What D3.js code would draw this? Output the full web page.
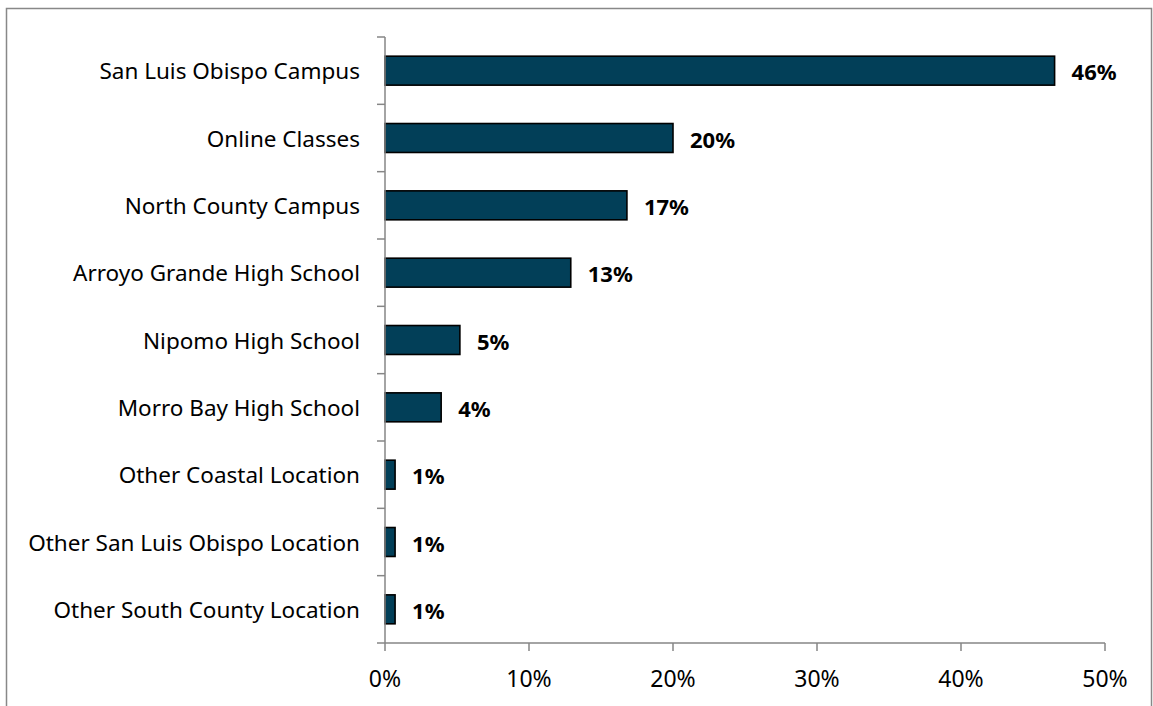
<!DOCTYPE html>
<html><head><meta charset="utf-8">
<script src="https://cdn.jsdelivr.net/npm/d3@7"></script>
<style>body{margin:0;background:#fff}svg{display:block}</style>
</head><body>
<svg id="c" width="1153" height="706"></svg>
<script>
const categories = ["San Luis Obispo Campus","Online Classes","North County Campus","Arroyo Grande High School","Nipomo High School","Morro Bay High School","Other Coastal Location","Other San Luis Obispo Location","Other South County Location"];
const values = [46.5, 20.0, 16.8, 12.9, 5.2, 3.9, 0.7, 0.7, 0.7];
const valueLabels = ["46%","20%","17%","13%","5%","4%","1%","1%","1%"];
const xTicks = [0,10,20,30,40,50];

(function(){
const svg = d3.select("#c");
const font = "'Noto Sans', sans-serif";
const pL = 385, pR = 1105, pT = 37, pB = 643;
const axisColor = "#868686";

svg.append("rect").attr("x",6.5).attr("y",8.5).attr("width",1145).attr("height",760)
  .attr("fill","none").attr("stroke","#888").attr("stroke-width",1.5);

const x = d3.scaleLinear().domain([0,50]).range([pL,pR]);
const y = d3.scaleBand().domain(categories).range([pT,pB]).paddingInner(0.57).paddingOuter(0.285);

svg.append("g").selectAll("rect").data(values).join("rect")
  .attr("x", x(0)).attr("y",(d,i)=>y(categories[i]))
  .attr("width",d=>x(d)-x(0)).attr("height",y.bandwidth())
  .attr("fill","#023F58").attr("stroke","#000").attr("stroke-width",1.6);

const step = (pB-pT)/categories.length;
const yb = svg.append("g");
yb.append("line").attr("x1",pL).attr("x2",pL).attr("y1",pT).attr("y2",pB)
  .attr("stroke",axisColor).attr("stroke-width",1.5);
yb.selectAll("line.t").data(d3.range(categories.length+1)).join("line").attr("class","t")
  .attr("x1",pL-8).attr("x2",pL).attr("y1",i=>pT+i*step).attr("y2",i=>pT+i*step)
  .attr("stroke",axisColor).attr("stroke-width",1.5);

const xa = svg.append("g");
xa.append("line").attr("x1",pL).attr("x2",pR).attr("y1",pB).attr("y2",pB)
  .attr("stroke",axisColor).attr("stroke-width",1.5);
xa.selectAll("line.t").data(xTicks).join("line").attr("class","t")
  .attr("x1",d=>x(d)).attr("x2",d=>x(d)).attr("y1",pB).attr("y2",pB+8)
  .attr("stroke",axisColor).attr("stroke-width",1.5);
xa.selectAll("text").data(xTicks).join("text")
  .attr("x",d=>x(d)).attr("y",687).attr("text-anchor","middle")
  .attr("font-family",font).attr("font-size",23).attr("fill","#000")
  .text(d=>d+"%");

svg.append("g").selectAll("text").data(categories).join("text")
  .attr("x",360).attr("y",d=>y(d)+y.bandwidth()/2+8.5)
  .attr("text-anchor","end").attr("font-family",font).attr("font-size",22.5).attr("fill","#000")
  .text(d=>d);

svg.append("g").selectAll("text").data(values).join("text")
  .attr("x",d=>x(d)+17).attr("y",(d,i)=>y(categories[i])+y.bandwidth()/2+9.5)
  .attr("font-family",font).attr("font-size",22).attr("font-weight","bold").attr("fill","#000")
  .text((d,i)=>valueLabels[i]);
})();
</script>
</body></html>
